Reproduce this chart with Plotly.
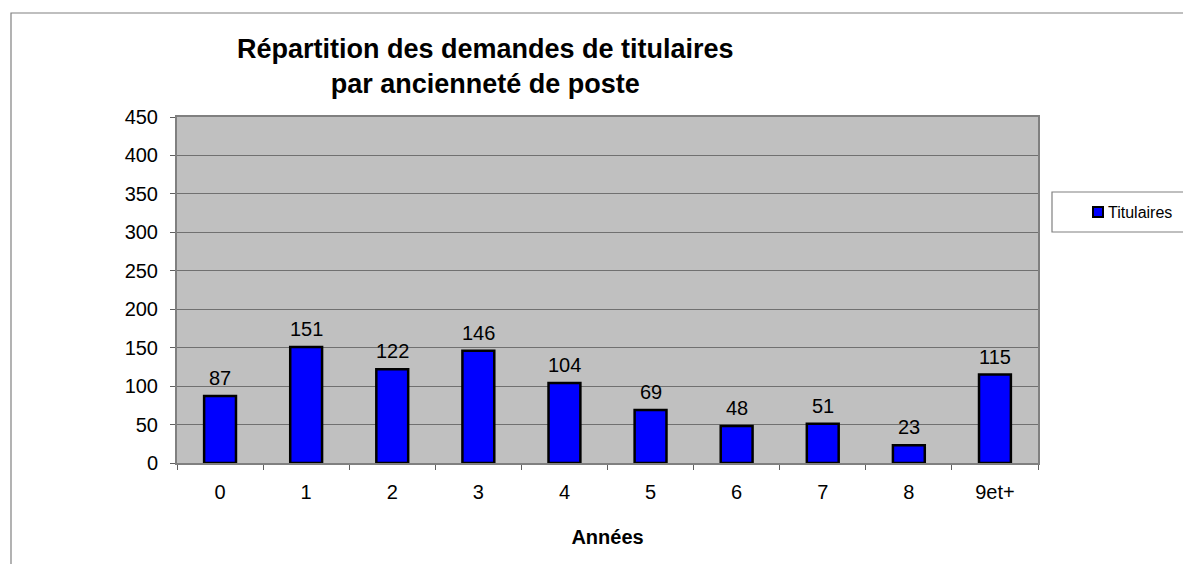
import plotly.graph_objects as go

categories = ["0", "1", "2", "3", "4", "5", "6", "7", "8", "9et+"]
titulaires = [87, 151, 122, 146, 104, 69, 48, 51, 23, 115]
y_ticks = [0, 50, 100, 150, 200, 250, 300, 350, 400, 450]
series_name = "Titulaires"

# page has an 8px body margin: figure sized so the page does not overflow
OFF = 8
W, H = 1191 - 2 * OFF, 572 - 2 * OFF
# plot area in reference (page) pixel coordinates
L, R, T, B = 177, 1038, 117, 463
pw, ph = R - L, B - T

def px(x):
    return (x - L) / pw

def py(y):
    return (B - y) / ph

FONT = "Liberation Sans, Arial, sans-serif"
BAR_COLOR = "#0000FF"

fig = go.Figure()
fig.add_trace(go.Bar(
    x=categories, y=titulaires, name=series_name,
    marker=dict(color=BAR_COLOR, line=dict(color="#000000", width=2.5)),
    width=0.37, showlegend=False,
))

for c, v in zip(categories, titulaires):
    fig.add_annotation(x=c, y=v, text=str(v), showarrow=False, yanchor="bottom",
                       yshift=5, font=dict(size=20, color="#000000", family=FONT))

# Title
fig.add_annotation(xref="paper", yref="paper", x=px(485), y=py(66),
                   text="<b>Répartition des demandes de titulaires<br>par ancienneté de poste</b>",
                   showarrow=False, xanchor="center", yanchor="middle",
                   font=dict(size=27, color="#000000", family=FONT))

# Outer chart border (left and top only visible)
fig.add_shape(type="path", xref="paper", yref="paper",
              path=f"M {px(11)} {py(600)} L {px(11)} {py(13)} L {px(1220)} {py(13)}",
              line=dict(color="#808080", width=1.2))
# Legend box
fig.add_shape(type="rect", xref="paper", yref="paper",
              x0=px(1052), x1=px(1230), y0=py(232), y1=py(192),
              line=dict(color="#808080", width=1.2), fillcolor="rgba(0,0,0,0)")
# Legend key
fig.add_shape(type="rect", xref="paper", yref="paper",
              x0=px(1093), x1=px(1103), y0=py(217), y1=py(207),
              line=dict(color="#000000", width=2), fillcolor=BAR_COLOR)
fig.add_annotation(xref="paper", yref="paper", x=px(1106), y=py(212),
                   text=series_name, showarrow=False, xanchor="left", yanchor="middle",
                   font=dict(size=16, color="#000000", family=FONT))

fig.update_layout(
    width=W, height=H,
    margin=dict(l=L - OFF, r=(W + OFF) - R, t=T - OFF, b=(H + OFF) - B),
    paper_bgcolor="#FFFFFF", plot_bgcolor="#C0C0C0",
    font=dict(family=FONT, color="#000000"),
    showlegend=False,
    bargap=0.63,
)
fig.update_xaxes(
    type="category", tickson="boundaries", ticks="outside", ticklen=5,
    tickcolor="#606060", showline=True, linecolor="#808080", linewidth=2,
    mirror=True, showgrid=False, tickfont=dict(size=20, family=FONT),
    ticklabelstandoff=10,
    title=dict(text="<b>Années</b>", font=dict(size=20, family=FONT), standoff=28),
)
fig.update_yaxes(
    range=[0, 450], tickvals=y_ticks, ticks="outside", ticklen=5,
    tickcolor="#606060", showline=True, linecolor="#808080", linewidth=2,
    mirror=True, showgrid=True, gridcolor="#707070", gridwidth=1,
    zeroline=False, tickfont=dict(size=20, family=FONT), ticklabelstandoff=8,
)

fig.write_html("out.html")
